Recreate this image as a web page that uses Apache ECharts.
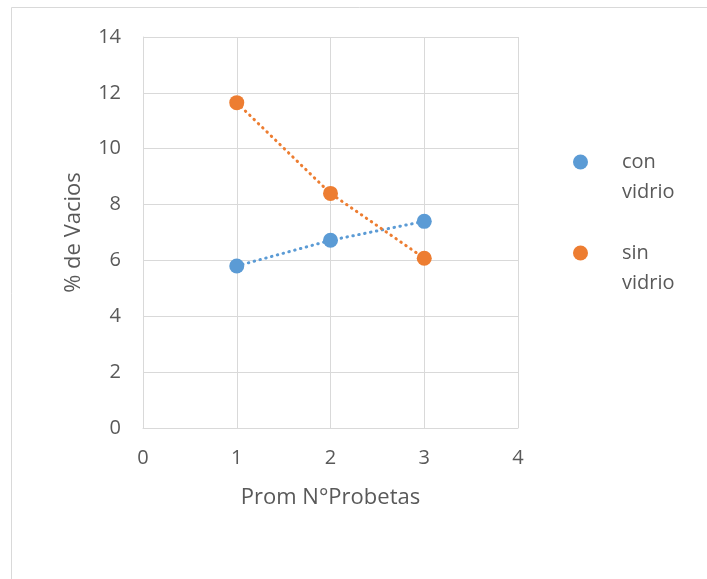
<!DOCTYPE html>
<html>
<head>
<meta charset="utf-8">
<script src="https://cdn.jsdelivr.net/npm/echarts@6/dist/echarts.min.js"></script>
<style>html,body{margin:0;padding:0;background:#fff}#c{width:707px;height:579px}</style>
</head>
<body>
<div id="c"></div>
<script>
const xValues = [1, 2, 3];
const conVidrio = [5.8, 6.72, 7.4];
const sinVidrio = [11.65, 8.4, 6.08];
const seriesNames = ['con vidrio', 'sin vidrio'];
const xTitle = 'Prom N°Probetas';
const yTitle = '% de Vacios';

const FONT = 'Open Sans';
const TXT = '#595959';
const GRID = '#D9D9D9';

function pairs(ys) { return xValues.map((x, i) => [x, ys[i]]); }

const chart = echarts.init(document.getElementById('c'), null, {renderer: 'canvas'});
chart.setOption({
  animation: false,
  backgroundColor: '#fff',
  graphic: [{
    type: 'rect', silent: true, z: -10,
    shape: {x: 11.5, y: 7.5, width: 800, height: 700},
    style: {fill: 'none', stroke: '#D9D9D9', lineWidth: 1}
  }],
  grid: {left: 143, right: 189, top: 37, bottom: 151, containLabel: false},
  xAxis: {
    type: 'value', min: 0, max: 4, interval: 1,
    name: xTitle, nameLocation: 'middle', nameGap: 59,
    nameTextStyle: {color: TXT, fontFamily: FONT, fontSize: 22},
    axisLine: {show: true, lineStyle: {color: GRID, width: 1}},
    axisTick: {show: false},
    axisLabel: {color: TXT, fontFamily: FONT, fontSize: 20, margin: 20},
    splitLine: {show: true, lineStyle: {color: GRID, width: 1}}
  },
  yAxis: {
    type: 'value', min: 0, max: 14, interval: 2,
    name: yTitle, nameLocation: 'middle', nameGap: 58, nameRotate: 90,
    nameTextStyle: {color: TXT, fontFamily: FONT, fontSize: 22},
    axisLine: {show: true, lineStyle: {color: GRID, width: 1}},
    axisTick: {show: false},
    axisLabel: {color: TXT, fontFamily: FONT, fontSize: 20, margin: 22},
    splitLine: {show: true, lineStyle: {color: GRID, width: 1}}
  },
  legend: {
    orient: 'vertical',
    left: 568, top: 112,
    itemWidth: 15, itemHeight: 15, itemGap: 1,
    icon: 'circle',
    data: seriesNames,
    formatter: n => '\n' + n.replace(' ', '\n'),
    textStyle: {color: TXT, fontFamily: FONT, fontSize: 20, lineHeight: 30, padding: [0, 0, 0, 29]}
  },
  series: [
    {
      name: seriesNames[0], type: 'line', data: pairs(conVidrio),
      symbol: 'circle', symbolSize: 15,
      itemStyle: {color: '#5B9BD5'},
      lineStyle: {color: '#5B9BD5', width: 3, type: [0.5, 5.5], cap: 'round'}
    },
    {
      name: seriesNames[1], type: 'line', data: pairs(sinVidrio),
      symbol: 'circle', symbolSize: 15,
      itemStyle: {color: '#ED7D31'},
      lineStyle: {color: '#ED7D31', width: 3, type: [0.5, 5.5], cap: 'round'}
    }
  ]
});
</script>
</body>
</html>
